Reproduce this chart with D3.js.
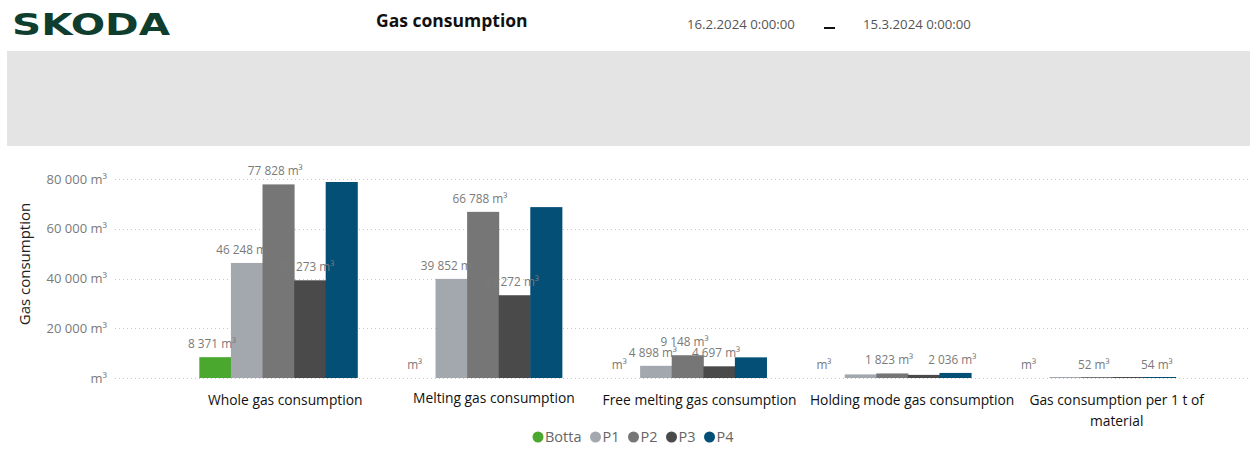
<!DOCTYPE html>
<html>
<head>
<meta charset="utf-8">
<script src="https://cdn.jsdelivr.net/npm/d3@7"></script>
<style>
  html, body { margin: 0; padding: 0; background: #fff; }
  svg { display: block; }
  text { font-family: "Open Sans", "Noto Sans", sans-serif; }
</style>
</head>
<body>
<svg id="chart" width="1250" height="452"></svg>
<script>
// ---- Data ----
const categories = [
  "Whole gas consumption",
  "Melting gas consumption",
  "Free melting gas consumption",
  "Holding mode gas consumption",
  "Gas consumption per 1 t of material"
];
const seriesNames = ["Botta", "P1", "P2", "P3", "P4"];
const seriesColors = ["#4aa82e", "#a3a8ae", "#767676", "#4a4a4a", "#034f75"];
const botta = [8371, 0, 0, 0, 0];
const p1 = [46248, 39852, 4898, 1450, 45];
const p2 = [77828, 66788, 9148, 1823, 52];
const p3 = [39273, 33272, 4697, 1250, 48];
const p4 = [78800, 68700, 8300, 2036, 54];
// which data labels are visible (per category, per series)
const labelShown = [
  [1, 1, 1, 1, 0],
  [1, 1, 1, 1, 0],
  [1, 1, 1, 1, 0],
  [1, 0, 1, 0, 1],
  [1, 0, 1, 0, 1]
];
const yTicks = [0, 20000, 40000, 60000, 80000];
const titleText = "Gas consumption";
const dateFrom = "16.2.2024 0:00:00";
const dateTo = "15.3.2024 0:00:00";
const yAxisTitle = "Gas consumption";

const seriesValues = [botta, p1, p2, p3, p4];

// ---- Setup ----
const svg = d3.select("#chart");

// Header
svg.append("text")
  .attr("x", 12).attr("y", 35)
  .attr("textLength", 158).attr("lengthAdjust", "spacingAndGlyphs")
  .style("font-family", "'DejaVu Sans', sans-serif")
  .style("font-weight", "bold").style("font-size", "31px")
  .attr("fill", "#0f3d2e").text("SKODA");

svg.append("text")
  .attr("x", 376).attr("y", 27)
  .style("font-weight", "700").style("font-size", "17.5px")
  .attr("fill", "#111").text(titleText);

svg.append("text")
  .attr("x", 687).attr("y", 29)
  .style("font-size", "13.2px").attr("fill", "#555").text(dateFrom);
svg.append("line")
  .attr("x1", 824).attr("x2", 835).attr("y1", 28).attr("y2", 28)
  .attr("stroke", "#111").attr("stroke-width", 2);
svg.append("text")
  .attr("x", 863).attr("y", 29)
  .style("font-size", "13.2px").attr("fill", "#555").text(dateTo);

// Gray band
svg.append("rect")
  .attr("x", 7).attr("y", 51).attr("width", 1243).attr("height", 95)
  .attr("fill", "#e4e4e4");

// ---- Scales ----
const x0 = d3.scaleBand()
  .domain(categories)
  .range([176, 1199])
  .paddingInner(0.228)
  .paddingOuter(0.114);

const x1 = d3.scaleBand()
  .domain(seriesNames)
  .range([0, x0.bandwidth()])
  .padding(0);

const y = d3.scaleLinear()
  .domain([0, 80000])
  .range([378, 179]);

const color = d3.scaleOrdinal().domain(seriesNames).range(seriesColors);

const fmt = v => (v === 0 ? "" : d3.format(",")(v).replace(/,/g, " ")) + (v === 0 ? "m³" : " m³");

// Gridlines
const grid = svg.append("g");
grid.selectAll("line").data(yTicks).join("line")
  .attr("x1", 115).attr("x2", 1250)
  .attr("y1", d => Math.round(y(d)) + 0.5).attr("y2", d => Math.round(y(d)) + 0.5)
  .attr("stroke", "#c8c8c8").attr("stroke-width", 1)
  .attr("stroke-dasharray", "1,3");

// Y axis labels via d3 axis
const yAxis = d3.axisLeft(y).tickValues(yTicks).tickSize(0).tickPadding(0)
  .tickFormat(d => fmt(d));
const gy = svg.append("g").attr("transform", "translate(107,0)").call(yAxis);
gy.select(".domain").remove();
gy.selectAll("text")
  .style("font-family", "'Open Sans', sans-serif")
  .style("font-size", "13px").attr("fill", "#7a7a7a");

// Y axis title
svg.append("text")
  .attr("transform", "translate(30,264) rotate(-90)")
  .attr("text-anchor", "middle")
  .style("font-size", "15px").attr("fill", "#222")
  .text(yAxisTitle);

// ---- Bars ----
const rows = [];
categories.forEach((c, ci) => {
  seriesNames.forEach((s, si) => {
    rows.push({ cat: c, ci, series: s, si, value: seriesValues[si][ci], show: labelShown[ci][si] });
  });
});

const barsG = svg.append("g");
barsG.selectAll("rect").data(rows.filter(d => d.value > 0)).join("rect")
  .attr("x", d => x0(d.cat) + x1(d.series))
  .attr("width", x1.bandwidth() + 0.5)
  .attr("y", d => Math.min(y(d.value), y(0) - 1))
  .attr("height", d => Math.max(1, y(0) - y(d.value)))
  .attr("fill", d => color(d.series));

// Data labels
svg.append("g").selectAll("text").data(rows.filter(d => d.show)).join("text")
  .attr("x", d => x0(d.cat) + x1(d.series) + x1.bandwidth() / 2 - (d.value === 0 ? 5 : 3))
  .attr("y", d => y(d.value) - 9)
  .attr("text-anchor", "middle")
  .style("font-size", "11.8px").attr("fill", "#7a7a7a")
  .text(d => fmt(d.value));

// Category labels with wrapping
const catG = svg.append("g");
const labelShift = [7, 11, 12, 20, 20];
const labelBase = [405, 403, 405, 405, 405];
categories.forEach((c, ci) => {
  const cx = x0(c) + x0.bandwidth() / 2 + labelShift[ci];
  const t = catG.append("text")
    .attr("x", cx)
    .attr("y", labelBase[ci])
    .attr("text-anchor", "middle")
    .style("font-size", "13.8px").attr("fill", "#111");
  const words = c.split(" ");
  let line = [];
  let tspan = t.append("tspan").attr("x", cx).attr("dy", 0);
  const maxW = 215;
  words.forEach(w => {
    line.push(w);
    tspan.text(line.join(" "));
    if (tspan.node().getComputedTextLength() > maxW && line.length > 1) {
      line.pop();
      tspan.text(line.join(" "));
      line = [w];
      tspan = t.append("tspan").attr("x", cx).attr("dy", 21).text(w);
    }
  });
});

// Legend
const legend = svg.append("g");
let lx = 533;
seriesNames.forEach((s, i) => {
  legend.append("circle").attr("cx", lx + 5).attr("cy", 437).attr("r", 5.5).attr("fill", seriesColors[i]);
  const t = legend.append("text").attr("x", lx + 12).attr("y", 442)
    .style("font-size", "14.5px").attr("fill", "#666").text(s);
  lx += 12 + t.node().getComputedTextLength() + 9;
});
</script>
</body>
</html>
